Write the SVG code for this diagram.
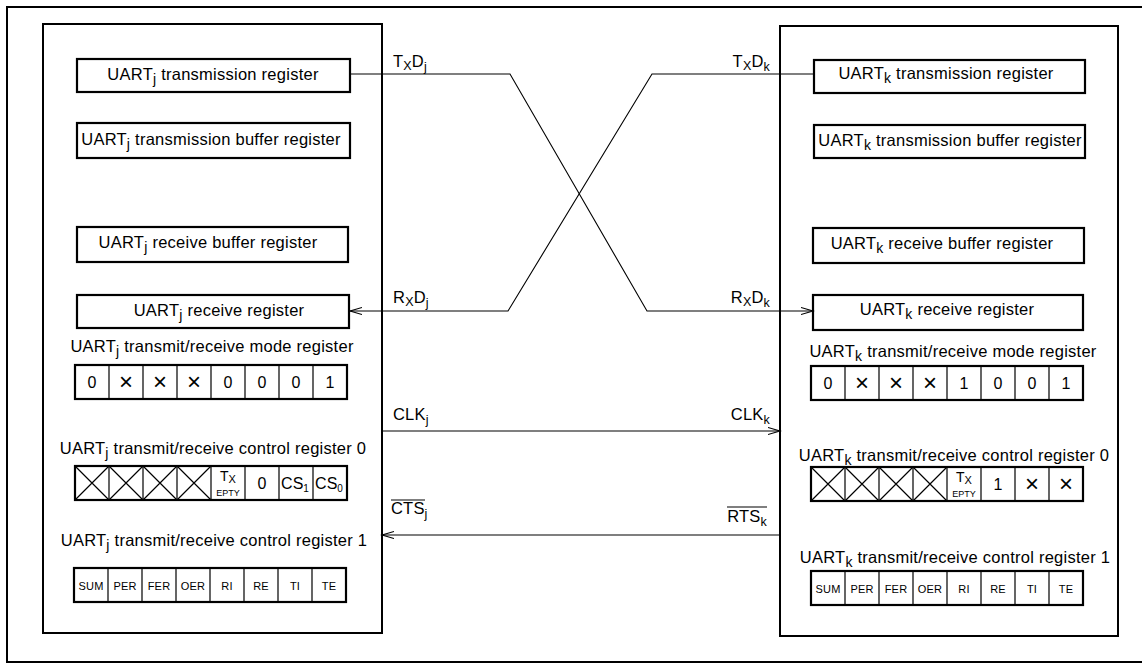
<svg xmlns="http://www.w3.org/2000/svg" width="1142" height="663" viewBox="0 0 1142 663">
<style>
.frame{fill:none;stroke:#000;stroke-width:2}
.reg{fill:#fff;stroke:#000;stroke-width:2.2}
.cell{fill:none;stroke:#000;stroke-width:1.2}
.conn{fill:none;stroke:#000;stroke-width:1.1}
text{font-family:"Liberation Sans",Arial,Helvetica,sans-serif;fill:#000}
.t{font-size:16.5px;letter-spacing:0.25px;text-anchor:middle}
.sub{font-size:14px}
.lbl{font-size:16.5px;letter-spacing:0.2px}
.lsub{font-size:12.5px}
.bit{font-size:16px;text-anchor:middle}
.x{font-size:24px;text-anchor:middle}
.sm{font-size:11px;text-anchor:middle;letter-spacing:0.2px}
.ep{font-size:9px;text-anchor:middle}
</style>
<defs>
<marker id="arr" markerUnits="userSpaceOnUse" markerWidth="14" markerHeight="10" refX="12" refY="4" orient="auto">
<path d="M0,0.5 L12,4 L0,7.5" fill="none" stroke="#000" stroke-width="1.1"/>
</marker>
<g id="row8">
<rect class="reg" x="0" y="0" width="272" height="34"/>
<path class="cell" d="M34,0V34M68,0V34M102,0V34M136,0V34M170,0V34M204,0V34M238,0V34"/>
</g>
<g id="crosses">
<path class="cell" d="M0,0L34,34M34,0L0,34M34,0L68,34M68,0L34,34M68,0L102,34M102,0L68,34M102,0L136,34M136,0L102,34"/>
</g>
</defs>

<rect id="outer-frame" class="frame" x="7" y="7" width="1145" height="655"/>

<!-- Left panel: UART j -->
<g id="panel-j">
<rect class="frame" x="43" y="24" width="339" height="609"/>
</g>
<g id="j-trans-reg">
<rect class="reg" x="77" y="59" width="273" height="33"/>
<text class="t" x="213" y="80">UART<tspan class="sub" dy="4">j</tspan><tspan dy="-4"> transmission register</tspan></text>
</g>
<g id="j-trans-buf">
<rect class="reg" x="77" y="123" width="273" height="35"/>
<text class="t" x="211" y="145">UART<tspan class="sub" dy="4">j</tspan><tspan dy="-4"> transmission buffer register</tspan></text>
</g>
<g id="j-recv-buf">
<rect class="reg" x="77" y="227" width="271" height="35"/>
<text class="t" x="208" y="248">UART<tspan class="sub" dy="4">j</tspan><tspan dy="-4"> receive buffer register</tspan></text>
</g>
<g id="j-recv-reg">
<rect class="reg" x="77" y="295" width="272" height="33"/>
<text class="t" x="219" y="316">UART<tspan class="sub" dy="4">j</tspan><tspan dy="-4"> receive register</tspan></text>
</g>
<g id="j-mode-reg">
<text class="t" x="212" y="352">UART<tspan class="sub" dy="4">j</tspan><tspan dy="-4"> transmit/receive mode register</tspan></text>
<g transform="translate(75,365)">
<use href="#row8"/>
<text class="bit" x="17" y="23">0</text>
<text class="x" x="51" y="25">×</text>
<text class="x" x="85" y="25">×</text>
<text class="x" x="119" y="25">×</text>
<text class="bit" x="153" y="23">0</text>
<text class="bit" x="187" y="23">0</text>
<text class="bit" x="221" y="23">0</text>
<text class="bit" x="255" y="23">1</text>
</g>
</g>
<g id="j-ctrl0-reg">
<text class="t" x="213" y="454">UART<tspan class="sub" dy="4">j</tspan><tspan dy="-4"> transmit/receive control register 0</tspan></text>
<g transform="translate(75,466)">
<use href="#row8"/>
<use href="#crosses"/>
<text class="bit" x="153" y="15" style="font-size:14px">T<tspan style="font-size:11px" dy="2">X</tspan></text>
<text class="ep" x="153" y="30">EPTY</text>
<text class="bit" x="187" y="23">0</text>
<text class="bit" x="220" y="23">CS<tspan style="font-size:10px" dy="3">1</tspan></text>
<text class="bit" x="254" y="23">CS<tspan style="font-size:10px" dy="3">0</tspan></text>
</g>
</g>
<g id="j-ctrl1-reg">
<text class="t" x="214" y="546">UART<tspan class="sub" dy="4">j</tspan><tspan dy="-4"> transmit/receive control register 1</tspan></text>
<g transform="translate(74,568)">
<use href="#row8"/>
<text class="sm" x="17" y="22">SUM</text>
<text class="sm" x="51" y="22">PER</text>
<text class="sm" x="85" y="22">FER</text>
<text class="sm" x="119" y="22">OER</text>
<text class="sm" x="153" y="22">RI</text>
<text class="sm" x="187" y="22">RE</text>
<text class="sm" x="221" y="22">TI</text>
<text class="sm" x="255" y="22">TE</text>
</g>
</g>

<!-- Right panel: UART k -->
<g id="panel-k">
<rect class="frame" x="780" y="26" width="338" height="610"/>
</g>
<g id="k-trans-reg">
<rect class="reg" x="814" y="60" width="271" height="33"/>
<text class="t" x="946" y="79">UART<tspan class="sub" dy="4">k</tspan><tspan dy="-4"> transmission register</tspan></text>
</g>
<g id="k-trans-buf">
<rect class="reg" x="814" y="125" width="271" height="33"/>
<text class="t" x="950" y="146">UART<tspan class="sub" dy="4">k</tspan><tspan dy="-4"> transmission buffer register</tspan></text>
</g>
<g id="k-recv-buf">
<rect class="reg" x="813" y="228" width="271" height="35"/>
<text class="t" x="942" y="249">UART<tspan class="sub" dy="4">k</tspan><tspan dy="-4"> receive buffer register</tspan></text>
</g>
<g id="k-recv-reg">
<rect class="reg" x="813" y="295" width="270" height="35"/>
<text class="t" x="947" y="315">UART<tspan class="sub" dy="4">k</tspan><tspan dy="-4"> receive register</tspan></text>
</g>
<g id="k-mode-reg">
<text class="t" x="953" y="357">UART<tspan class="sub" dy="4">k</tspan><tspan dy="-4"> transmit/receive mode register</tspan></text>
<g transform="translate(811,366)">
<use href="#row8"/>
<text class="bit" x="17" y="23">0</text>
<text class="x" x="51" y="25">×</text>
<text class="x" x="85" y="25">×</text>
<text class="x" x="119" y="25">×</text>
<text class="bit" x="153" y="23">1</text>
<text class="bit" x="187" y="23">0</text>
<text class="bit" x="221" y="23">0</text>
<text class="bit" x="255" y="23">1</text>
</g>
</g>
<g id="k-ctrl0-reg">
<text class="t" x="954" y="461">UART<tspan class="sub" dy="4">k</tspan><tspan dy="-4"> transmit/receive control register 0</tspan></text>
<g transform="translate(811,467)">
<use href="#row8"/>
<use href="#crosses"/>
<text class="bit" x="153" y="15" style="font-size:14px">T<tspan style="font-size:11px" dy="2">X</tspan></text>
<text class="ep" x="153" y="30">EPTY</text>
<text class="bit" x="187" y="23">1</text>
<text class="x" x="221" y="25">×</text>
<text class="x" x="255" y="25">×</text>
</g>
</g>
<g id="k-ctrl1-reg">
<text class="t" x="955" y="563">UART<tspan class="sub" dy="4">k</tspan><tspan dy="-4"> transmit/receive control register 1</tspan></text>
<g transform="translate(811,571)">
<use href="#row8"/>
<text class="sm" x="17" y="22">SUM</text>
<text class="sm" x="51" y="22">PER</text>
<text class="sm" x="85" y="22">FER</text>
<text class="sm" x="119" y="22">OER</text>
<text class="sm" x="153" y="22">RI</text>
<text class="sm" x="187" y="22">RE</text>
<text class="sm" x="221" y="22">TI</text>
<text class="sm" x="255" y="22">TE</text>
</g>
</g>

<!-- Connectors -->
<g id="connectors">
<polyline class="conn" points="350,74 510,74 647,311 813,311" marker-end="url(#arr)"/>
<polyline class="conn" points="814,74 652,74 508,311 350,311" marker-end="url(#arr)"/>
<line class="conn" x1="382" y1="431" x2="780" y2="431" marker-end="url(#arr)"/>
<line class="conn" x1="780" y1="535" x2="382" y2="535" marker-end="url(#arr)"/>
<text class="lbl" x="393" y="67">T<tspan class="lsub" dy="3">X</tspan><tspan dy="-3">D</tspan><tspan class="lsub" dy="4">j</tspan></text>
<text class="lbl" x="770" y="67" text-anchor="end">T<tspan class="lsub" dy="3">X</tspan><tspan dy="-3">D</tspan><tspan class="lsub" dy="4">k</tspan></text>
<text class="lbl" x="393" y="303">R<tspan class="lsub" dy="3">X</tspan><tspan dy="-3">D</tspan><tspan class="lsub" dy="4">j</tspan></text>
<text class="lbl" x="770" y="303" text-anchor="end">R<tspan class="lsub" dy="3">X</tspan><tspan dy="-3">D</tspan><tspan class="lsub" dy="4">k</tspan></text>
<text class="lbl" x="393" y="420">CLK<tspan class="lsub" dy="4">j</tspan></text>
<text class="lbl" x="770" y="420" text-anchor="end">CLK<tspan class="lsub" dy="4">k</tspan></text>
<text class="lbl" x="391" y="514">CTS<tspan class="lsub" dy="4">j</tspan></text>
<line class="conn" x1="391" y1="500" x2="425" y2="500"/>
<text class="lbl" x="767" y="522" text-anchor="end">RTS<tspan class="lsub" dy="4">k</tspan></text>
<line class="conn" x1="727" y1="507" x2="767" y2="507"/>
</g>
</svg>
